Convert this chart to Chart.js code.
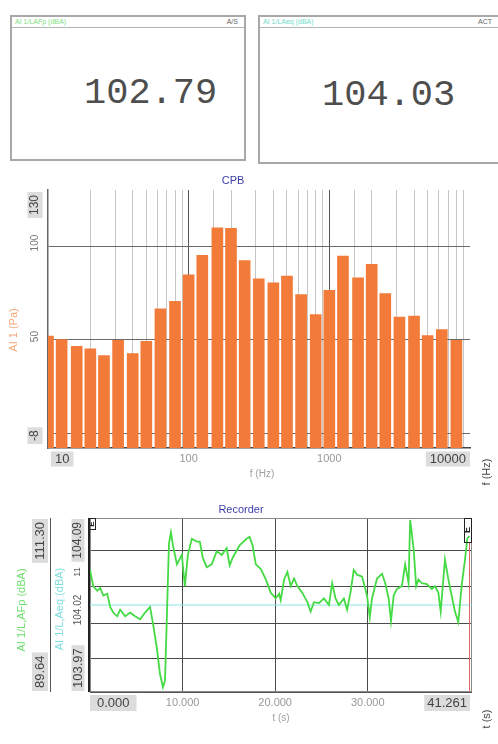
<!DOCTYPE html>
<html>
<head>
<meta charset="utf-8">
<title>Sound level monitor</title>
<script src="https://cdn.jsdelivr.net/npm/chart.js@4.4.1/dist/chart.umd.min.js"></script>
<style>
  html, body { margin: 0; padding: 0; background: #fff; }
  body { position: relative; width: 498px; height: 744px; overflow: hidden; font-family: Arial, "Liberation Sans", sans-serif; }
  .meter { position: absolute; box-sizing: border-box; border: 2px solid #a8a8a8; background: #fff; }
  .meter .head { position: absolute; left: 0; right: 0; top: 0; height: 10px; border-bottom: 1px solid #b4b4b4; font-size: 7px; line-height: 10px; }
  .meter .head .name { position: absolute; left: 3px; top: 0; }
  .meter .head .flag { position: absolute; top: 0; color: #666; }
  .meter .value { position: absolute; font-family: "Liberation Mono", monospace; font-size: 37px; line-height: 37px; color: #4e4e4e; white-space: nowrap; }
  canvas { position: absolute; left: 0; }
</style>
</head>
<body>
<div class="meter" style="left:10px;top:15px;width:236px;height:146px;">
  <div class="head"><span class="name" style="color:#7ee07e">AI 1/LAFp (dBA)</span><span class="flag" style="right:6px">A/S</span></div>
  <div class="value" id="lafpValue" style="left:72px;top:58px;"></div>
</div>
<div class="meter" style="left:258px;top:15px;width:262px;height:149px;">
  <div class="head"><span class="name" style="color:#70dcc8">AI 1/LAeq (dBA)</span><span class="flag" style="left:218px">ACT</span></div>
  <div class="value" id="laeqValue" style="left:62px;top:60px;"></div>
</div>
<canvas id="cpb" width="498" height="320" style="top:170px"></canvas>
<canvas id="rec" width="498" height="254" style="top:490px"></canvas>
<script>
// ---- meter readouts ----
const meterLafp = 102.79;
const meterLaeq = 104.03;

// ---- CPB: 1/3-octave band levels ----
const bandFreqs = [10, 12.5, 16, 20, 25, 31.5, 40, 50, 63, 80,
                   100, 125, 160, 200, 250, 315, 400, 500, 630, 800,
                   1000, 1250, 1600, 2000, 2500, 3150, 4000, 5000, 6300, 8000];
const bandLevels = [51.8, 50.0, 46.4, 45.0, 41.4, 49.6, 42.5, 49.1, 66.4, 70.4,
                    84.6, 95.0, 109.8, 109.5, 92.2, 82.5, 80.4, 83.9, 74.1, 63.4,
                    76.4, 94.6, 83.0, 90.2, 74.6, 62.0, 62.5, 52.1, 55.4, 49.6];
const levelRange = [-8, 130];
const levelGrid = [0, 50, 100];
const levelTickValues = [100, 50];
const freqRange = [10, 10000];
const freqTickValues = [100, 1000];

// ---- Recorder: LAFp time history and running LAeq ----
const recTime = [0.0, 0.35, 0.78, 1.11, 1.43, 1.86, 2.18, 2.51, 2.94, 3.26,
                 3.80, 4.33, 4.87, 5.41, 5.95, 6.48, 6.81, 7.24, 7.56, 7.88,
                 8.10, 8.31, 8.53, 8.74, 8.96, 9.39, 9.92, 10.25, 10.57, 11.00,
                 11.54, 11.86, 12.18, 12.61, 13.15, 13.69, 14.23, 14.76, 15.09, 15.41,
                 16.16, 16.91, 17.24, 17.56, 17.91, 18.45, 18.99, 19.53, 20.06, 20.43,
                 20.60, 20.97, 21.32, 21.68, 22.04, 22.40, 22.94, 23.48, 23.83, 24.19,
                 24.73, 25.27, 25.81, 26.16, 26.52, 26.88, 27.42, 27.77, 28.13, 28.49,
                 28.85, 29.39, 29.92, 30.22, 30.46, 31.00, 31.54, 31.89, 32.26, 32.51,
                 32.80, 33.15, 33.69, 34.04, 34.41, 34.58, 34.95, 35.23, 35.48, 35.84,
                 36.38, 36.91, 37.27, 37.63, 37.88, 38.34, 38.71, 39.06, 39.42, 39.78,
                 40.14, 40.49, 40.75, 40.97];
const recLafp = [104.83, 102.82, 102.24, 102.59, 101.65, 101.88, 100.23, 99.53, 99.06, 99.88,
                 99.06, 99.53, 99.06, 98.70, 99.53, 100.23, 98.12, 94.94, 91.88, 90.23,
                 91.05, 99.29, 108.12, 109.53, 107.89, 105.53, 106.71, 102.82, 106.71, 108.71,
                 108.36, 108.36, 106.36, 105.18, 105.53, 107.18, 106.71, 107.53, 105.41, 106.36,
                 107.89, 108.71, 108.95, 107.89, 105.53, 104.94, 103.65, 101.98, 101.29, 101.88,
                 101.06, 103.65, 104.59, 102.82, 103.77, 102.82, 101.98, 100.82, 99.65, 100.82,
                 100.71, 101.29, 100.47, 103.18, 101.29, 100.47, 101.29, 99.88, 101.98, 104.83,
                 104.24, 104.00, 101.65, 98.94, 101.29, 103.77, 104.35, 103.18, 101.29, 98.47,
                 101.65, 102.47, 102.82, 105.53, 103.18, 111.06, 107.53, 102.82, 103.65, 103.18,
                 103.06, 102.47, 102.82, 101.98, 99.65, 106.12, 103.65, 101.65, 99.65, 98.35,
                 102.82, 106.00, 108.71, 109.06];
const recLaeq = 104.03;
const lafpRange = [89.64, 111.30];
const laeqRange = [103.97, 104.09];
const recGridLevels = [107.2, 102.8, 98.2, 93.8];
const timeRange = [0, 41.261];
const timeTickValues = [10, 20, 30];

document.getElementById('lafpValue').textContent = meterLafp.toFixed(2);
document.getElementById('laeqValue').textContent = meterLaeq.toFixed(2);

const FONT = 'Arial, "Liberation Sans", sans-serif';
const TITLE_BLUE = '#3d3daa';
const LIMIT_FILL = '#dcdcdc';

// text helper: optional rotation (reads bottom to top) and optional filled box;
// anchor shifts the text along its reading direction: 0 = centred, 1 = starts at point, -1 = ends at point
function drawText(ctx, text, x, y, o) {
  ctx.save();
  ctx.font = o.font;
  const w = ctx.measureText(text).width;
  const boxLen = w + (o.pad || 6);
  const shift = (o.anchor || 0) * boxLen / 2;
  ctx.translate(x, y);
  if (o.rotate) ctx.rotate(-Math.PI / 2);
  ctx.translate(shift, 0);
  if (o.box) {
    const h = o.boxH || 15;
    ctx.fillStyle = o.box;
    ctx.fillRect(-boxLen / 2, -h / 2, boxLen, h);
  }
  ctx.textAlign = 'center';
  ctx.textBaseline = 'middle';
  ctx.fillStyle = o.color;
  ctx.fillText(text, 0, 0);
  ctx.restore();
}

const isDecade = v => Math.abs(Math.log10(v) - Math.round(Math.log10(v))) < 1e-9;

// ---- CPB annotations ----
const cpbDecor = {
  id: 'cpbDecor',
  afterDraw(chart) {
    const { ctx, chartArea: a, scales: { x, y } } = chart;
    drawText(ctx, 'CPB', 233, 11, { font: '11px ' + FONT, color: TITLE_BLUE });
    // level axis
    drawText(ctx, String(levelRange[1]), 35, y.getPixelForValue(levelRange[1]) + 2,
      { font: '12px ' + FONT, color: '#444', rotate: true, box: LIMIT_FILL, anchor: -1 });
    levelTickValues.forEach(v => drawText(ctx, String(v), 35, y.getPixelForValue(v) - 3,
      { font: '10px ' + FONT, color: '#777', rotate: true }));
    drawText(ctx, String(levelRange[0]), 35, y.getPixelForValue(levelRange[0]) - 4,
      { font: '12px ' + FONT, color: '#444', rotate: true, box: LIMIT_FILL, anchor: 1 });
    drawText(ctx, 'AI 1 (Pa)', 14, 160, { font: '11px ' + FONT, color: '#f2a878', rotate: true });
    // frequency axis
    const ty = a.bottom + 11;
    drawText(ctx, String(freqRange[0]), x.getPixelForValue(freqRange[0]) + 3, ty,
      { font: '13px ' + FONT, color: '#444', box: LIMIT_FILL, anchor: 1, pad: 8 });
    freqTickValues.forEach(v => drawText(ctx, String(v), x.getPixelForValue(v), ty,
      { font: '11px ' + FONT, color: '#999' }));
    drawText(ctx, String(freqRange[1]), x.getPixelForValue(freqRange[1]), ty,
      { font: '13px ' + FONT, color: '#444', box: LIMIT_FILL, anchor: -1, pad: 8 });
    drawText(ctx, 'f (Hz)', 262, a.bottom + 26, { font: '10px ' + FONT, color: '#a0a0a0' });
    drawText(ctx, 'f (Hz)', 487, a.bottom + 24, { font: '11px ' + FONT, color: '#444', rotate: true });
  }
};

new Chart(document.getElementById('cpb'), {
  type: 'bar',
  data: {
    datasets: [{
      data: bandFreqs.map((f, i) => ({ x: f, y: bandLevels[i] })),
      backgroundColor: '#f27b3a',
      borderWidth: 0,
      barThickness: 11,
      base: levelRange[0]
    }]
  },
  options: {
    responsive: false,
    animation: false,
    events: [],
    layout: { padding: { left: 48, right: 28, top: 20, bottom: 42 } },
    plugins: { legend: { display: false }, tooltip: { enabled: false } },
    scales: {
      x: {
        type: 'logarithmic',
        min: freqRange[0], max: freqRange[1],
        offset: false,
        ticks: { display: false },
        grid: {
          offset: false, drawTicks: false,
          color: c => (c.tick && (c.tick.value === freqRange[0] || c.tick.value === freqRange[1])) ? 'rgba(0,0,0,0)'
                      : (c.tick && isDecade(c.tick.value) ? '#555' : '#c6c6c6'),
          lineWidth: 1
        },
        border: { display: true, color: '#444', width: 1.5 },
        afterFit: s => { s.height = 0; }
      },
      y: {
        min: levelRange[0], max: levelRange[1],
        ticks: { display: false },
        afterBuildTicks: s => { s.ticks = levelGrid.map(v => ({ value: v })); },
        grid: { drawTicks: false, color: '#6a6a6a', lineWidth: 1 },
        border: { display: true, color: '#666', width: 1.5 },
        afterFit: s => { s.width = 0; }
      }
    }
  },
  plugins: [cpbDecor]
});

// ---- Recorder annotations ----
const recDecor = {
  id: 'recDecor',
  beforeDatasetsDraw(chart) {
    const { ctx, chartArea: a } = chart;
    ctx.save();
    ctx.strokeStyle = '#8a8a8a';
    ctx.lineWidth = 1;
    ctx.strokeRect(a.left + 0.5, a.top + 0.5, a.width - 1, a.height - 1);
    ctx.restore();
  },
  afterDraw(chart) {
    const { ctx, chartArea: a, scales: { x, y, y2 } } = chart;
    drawText(ctx, 'Recorder', 241, 20, { font: '11px ' + FONT, color: TITLE_BLUE });
    ctx.save();
    // inner (LAeq) axis line and outer (LAFp) axis line
    ctx.strokeStyle = '#222';
    ctx.lineWidth = 2;
    ctx.beginPath(); ctx.moveTo(a.left - 1, a.top); ctx.lineTo(a.left - 1, a.bottom); ctx.stroke();
    ctx.strokeStyle = '#555';
    ctx.lineWidth = 1;
    ctx.beginPath(); ctx.moveTo(50.5, a.top); ctx.lineTo(50.5, a.bottom); ctx.stroke();
    ctx.beginPath(); ctx.moveTo(a.left, a.bottom + 0.5); ctx.lineTo(a.right, a.bottom + 0.5); ctx.stroke();
    // end cursor line
    ctx.strokeStyle = '#e26464';
    ctx.beginPath(); ctx.moveTo(a.right - 2.5, a.top + 25); ctx.lineTo(a.right - 2.5, a.bottom); ctx.stroke();
    // cursor markers
    ctx.strokeStyle = '#222';
    ctx.strokeRect(a.left - 1.5, a.top + 0.5, 7, 11);
    ctx.strokeRect(a.right - 7.5, a.top + 0.5, 7, 24);
    ctx.restore();
    drawText(ctx, 'E', a.left + 2, a.top + 6, { font: 'bold 8px ' + FONT, color: '#222', rotate: true });
    drawText(ctx, 'E', a.right - 4, a.top + 12, { font: 'bold 9px ' + FONT, color: '#222', rotate: true });
    // LAFp axis limits
    drawText(ctx, lafpRange[1].toFixed(2), 40, y.getPixelForValue(lafpRange[1]) + 1,
      { font: '13px ' + FONT, color: '#444', rotate: true, box: LIMIT_FILL, anchor: -1, boxH: 16 });
    drawText(ctx, lafpRange[0].toFixed(2), 40, y.getPixelForValue(lafpRange[0]) - 1,
      { font: '13px ' + FONT, color: '#444', rotate: true, box: LIMIT_FILL, anchor: 1, boxH: 16 });
    // LAeq axis limits and centre label
    drawText(ctx, laeqRange[1].toFixed(2), 78, y2.getPixelForValue(laeqRange[1]) + 1,
      { font: '12px ' + FONT, color: '#444', rotate: true, box: LIMIT_FILL, anchor: -1, boxH: 13 });
    drawText(ctx, '11', 78, 82, { font: '9px ' + FONT, color: '#555', rotate: true });
    drawText(ctx, '104.02', 78, y2.getPixelForValue((laeqRange[0] + laeqRange[1]) / 2) + 5,
      { font: '10px ' + FONT, color: '#555', rotate: true });
    drawText(ctx, laeqRange[0].toFixed(2), 78, y2.getPixelForValue(laeqRange[0]) - 1,
      { font: '13px ' + FONT, color: '#444', rotate: true, box: LIMIT_FILL, anchor: 1, boxH: 13 });
    drawText(ctx, 'AI 1/L,AFp (dBA)', 22, 120, { font: '11px ' + FONT, color: '#6ee06e', rotate: true });
    drawText(ctx, 'AI 1/L,Aeq (dBA)', 60, 119, { font: '11px ' + FONT, color: '#7fdede', rotate: true });
    // time axis
    const ty = a.bottom + 11;
    drawText(ctx, timeRange[0].toFixed(3), x.getPixelForValue(timeRange[0]), ty,
      { font: '13px ' + FONT, color: '#444', box: LIMIT_FILL, anchor: 1, pad: 14, boxH: 16 });
    timeTickValues.forEach(v => drawText(ctx, v.toFixed(3), x.getPixelForValue(v), ty,
      { font: '11px ' + FONT, color: '#999' }));
    drawText(ctx, timeRange[1].toFixed(3), x.getPixelForValue(timeRange[1]) - 2, ty,
      { font: '13px ' + FONT, color: '#444', box: LIMIT_FILL, anchor: -1, pad: 6, boxH: 16 });
    drawText(ctx, 't (s)', 281, a.bottom + 26, { font: '10px ' + FONT, color: '#a0a0a0' });
    drawText(ctx, 't (s)', 487, a.bottom + 27, { font: '11px ' + FONT, color: '#444', rotate: true });
  }
};

new Chart(document.getElementById('rec'), {
  type: 'line',
  data: {
    datasets: [{
      data: recTime.map((t, i) => ({ x: t, y: recLafp[i] })),
      borderColor: '#44da44',
      borderWidth: 1.8,
      pointRadius: 0,
      tension: 0,
      yAxisID: 'y'
    }, {
      data: [{ x: timeRange[0], y: recLaeq }, { x: timeRange[1], y: recLaeq }],
      borderColor: '#8ee4e4',
      borderWidth: 1,
      pointRadius: 0,
      yAxisID: 'y2'
    }]
  },
  options: {
    responsive: false,
    animation: false,
    events: [],
    layout: { padding: { left: 90, right: 26, top: 28, bottom: 52 } },
    plugins: { legend: { display: false }, tooltip: { enabled: false } },
    scales: {
      x: {
        type: 'linear',
        min: timeRange[0], max: timeRange[1],
        ticks: { display: false },
        afterBuildTicks: s => { s.ticks = timeTickValues.map(v => ({ value: v })); },
        grid: { drawTicks: false, color: '#4a4a4a', lineWidth: 1 },
        border: { display: false },
        afterFit: s => { s.height = 0; }
      },
      y: {
        min: lafpRange[0], max: lafpRange[1],
        ticks: { display: false },
        afterBuildTicks: s => { s.ticks = recGridLevels.map(v => ({ value: v })); },
        grid: { drawTicks: false, color: '#4a4a4a', lineWidth: 1 },
        border: { display: false },
        afterFit: s => { s.width = 0; }
      },
      y2: {
        display: false,
        min: laeqRange[0], max: laeqRange[1]
      }
    }
  },
  plugins: [recDecor]
});
</script>
</body>
</html>
